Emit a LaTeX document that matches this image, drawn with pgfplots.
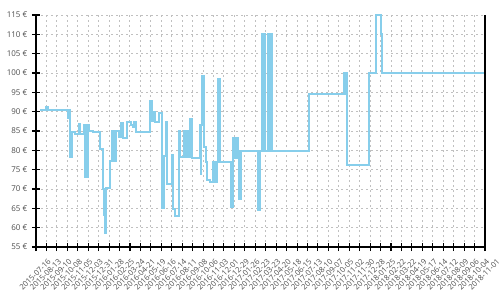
\documentclass[border=0pt]{standalone}
\usepackage{pgfplots}
\pgfplotsset{compat=1.18}
\usepackage{fontspec}
\setmainfont{Open Sans}
\definecolor{lineblue}{HTML}{87CEEB}
\definecolor{txtgray}{HTML}{4D4D4D}
\definecolor{gridgray}{HTML}{C0C0C0}
\begin{document}
\begin{tikzpicture}
\useasboundingbox (-27pt,-39.75pt) rectangle (348pt,185.25pt);
\begin{axis}[
  at={(0,0)}, anchor=south west,
  scale only axis,
  width=336.75pt, height=174pt,
  xmin=0, xmax=1204, ymin=55, ymax=115,
  clip=false,
  separate axis lines,
  axis x line*=bottom,
  axis y line*=box,
  ytick pos=left,
  axis line style={black, line width=0.8pt},
  tick style={black, line width=0.8pt},
  major tick length=6pt,
  tick align=center,
  xtick={0,28,...,1204},
  xticklabels={2015-07-16,2015-08-13,2015-09-10,2015-10-08,2015-11-05,2015-12-03,2015-12-31,2016-01-28,2016-02-25,2016-03-24,2016-04-21,2016-05-19,2016-06-16,2016-07-14,2016-08-11,2016-09-08,2016-10-06,2016-11-03,2016-12-01,2016-12-29,2017-01-26,2017-02-23,2017-03-23,2017-04-20,2017-05-18,2017-06-15,2017-07-13,2017-08-10,2017-09-07,2017-10-05,2017-11-02,2017-11-30,2017-12-28,2018-01-25,2018-02-22,2018-03-22,2018-04-19,2018-05-17,2018-06-14,2018-07-12,2018-08-09,2018-09-06,2018-10-04,2018-11-01},
  ytick={55,60,...,115},
  yticklabels={55 €,60 €,65 €,70 €,75 €,80 €,85 €,90 €,95 €,100 €,105 €,110 €,115 €},
  xticklabel style={font=\fontsize{5.8}{7}\selectfont, text=txtgray, inner sep=0pt, anchor=north east, xshift=8.5pt, yshift=-5pt, rotate=45},
  yticklabel style={font=\fontsize{6}{7}\selectfont, text=txtgray},
  grid=major,
  major grid style={gridgray, line width=0.75pt, dash pattern=on 1.5pt off 2.25pt},
]
\addplot[const plot, lineblue, line width=1.5pt] coordinates {
(10,90.5)(27,91.3)(31,90.5)(85,88.3)(88,90.5)(90,88.3)(92,78.2)(96,84.8)
(105,84.1)(114,86.7)(119,84.2)(128,86.5)(132,73.2)(135,86.5)(137,73.2)(139,86.5)
(143,85.1)(154,84.7)(172,80.3)(179,69.9)(182,63.3)(184,58.5)(186,63.5)(187,58.5)
(189,70.3)(198,77.3)(203,85)(205,77.3)(207,85)(209,77.3)(211,85)(213,77.3)
(215,85)(216,85.1)(223,83.5)(228,87)(234,83.1)(243,87.2)(255,86.5)(259,86.1)
(264,87.2)(268,84.8)(306,92.8)(308,87.5)(310,92.8)(312,87.5)(315,90)(319,87.3)
(330,89.7)(337,65)(343,78.6)(348,87.3)(351,71.3)(366,78.8)(368,64.8)(372,63)
(384,85.1)(386,78.4)(398,85)(400,78.4)(403,85)(405,78.4)(408,85)(410,78.4)
(413,88.1)(417,78.1)(440,86.6)(442,74)(443,86.6)(444,99.1)(447,86.6)(449,99.1)
(451,80.9)(455,77.1)(458,72.2)(467,71.9)(475,77.1)(477,71.9)(480,77.1)(482,71.9)
(485,77.1)(488,98.4)(490,77.1)(491,98.4)(493,77.1)(524,65.3)(528,83.1)(531,77.9)
(534,83.1)(537,77.9)(539,83.1)(541,79.7)(545,67.3)(549,79.8)(594,64.6)(600,79.8)
(605,110)(606.5,79.8)(608,110)(609.5,79.8)(611,110)(612.5,79.8)(613,110)(614,79.8)
(622,110)(623.5,79.8)(625,110)(626.5,79.8)(628,110)(629.5,79.8)(630.5,110)(631.5,79.8)
(731,94.5)(827,100)(829,94.5)(831,100)(833,94.5)(834,100)(835,76.2)
(893,100)(911,115)(925,110)(928,100)(1200,100)
};
\end{axis}
\end{tikzpicture}
\end{document}
